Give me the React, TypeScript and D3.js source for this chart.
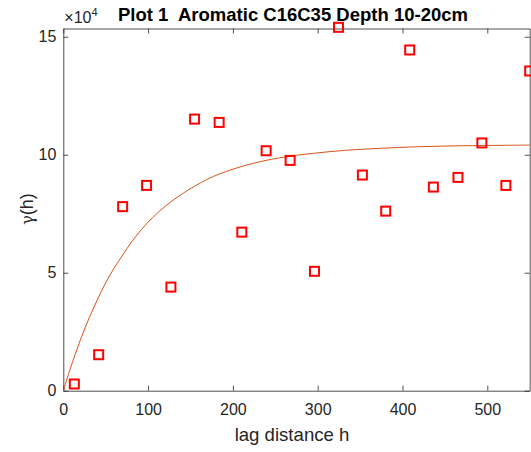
import * as d3 from 'd3'
import { useRef, useEffect } from 'react'

// experimental semivariogram (lag h, gamma in units of 1e4)
const lagH = [13, 41.7, 70, 98.2, 126.9, 154.8, 183.8, 210.5, 239.2, 267.5, 296.2, 324.5, 352.7, 380.2, 408.5, 436.4, 465.4, 493.6, 521.9, 550]
const gammaObs = [0.284, 1.525, 7.8, 8.7, 4.39, 11.51, 11.37, 6.72, 10.17, 9.76, 5.06, 15.4, 9.14, 7.61, 14.44, 8.63, 9.04, 10.5, 8.7, 13.55]

// fitted model curve
const modelH = [0, 4, 8, 14, 20, 27, 35, 45, 55, 65, 75, 86, 98, 112, 126, 148, 177, 216, 255, 295, 334, 373, 420, 470, 520, 550]
const modelGamma = [0, 0.46, 0.91, 1.54, 2.14, 2.78, 3.45, 4.22, 4.9, 5.48, 6.02, 6.56, 7.07, 7.56, 7.98, 8.52, 9.08, 9.56, 9.87, 10.06, 10.19, 10.27, 10.34, 10.38, 10.4, 10.41]

const xTicks = [0, 100, 200, 300, 400, 500]
const yTicks = [0, 5, 10, 15]

const titleText = 'Plot 1  Aromatic C16C35 Depth 10-20cm'
const xLabel = 'lag distance h'

const App = () => {
  const chart = useRef<SVGSVGElement>(null)

  useEffect(() => {
    drawChart()
  }, [])

  const drawChart = () => {
    const W = 531
    const H = 452
    const margin = { top: 28.5, right: 1.3, bottom: 61.3, left: 63.3 }
    const width = W - margin.left - margin.right
    const height = H - margin.top - margin.bottom
    const font = "'Liberation Sans', Arial, Helvetica, sans-serif"
    const axisColor = '#262626'

    const root = d3.select(chart.current)
    root.selectAll('*').remove()
    root.attr('width', W).attr('height', H)

    const svg = root
      .append('g')
      .attr('transform', 'translate(' + margin.left + ',' + margin.top + ')')

    const x = d3.scaleLinear().domain([0, 550]).range([0, width])
    const y = d3.scaleLinear().domain([0, 15.35]).range([height, 0])

    // axes box with inward ticks on all sides
    const tick = 5
    svg.append('g')
      .attr('transform', 'translate(0,' + height + ')')
      .call(d3.axisBottom(x).tickValues(xTicks).tickSize(-tick).tickPadding(tick + 8).tickSizeOuter(0))
    svg.append('g')
      .call(d3.axisTop(x).tickValues(xTicks).tickSize(-tick).tickFormat(() => '').tickSizeOuter(0))
    svg.append('g')
      .call(d3.axisLeft(y).tickValues(yTicks).tickSize(-tick).tickPadding(tick + 2).tickSizeOuter(0))
    svg.append('g')
      .attr('transform', 'translate(' + width + ',0)')
      .call(d3.axisRight(y).tickValues(yTicks).tickSize(-tick).tickFormat(() => '').tickSizeOuter(0))

    svg.selectAll('.domain').attr('stroke', axisColor).attr('stroke-opacity', 0.8)
    svg.selectAll('.tick line').attr('stroke', axisColor).attr('stroke-opacity', 0.8)
    svg.selectAll('.tick text')
      .attr('fill', axisColor)
      .attr('font-family', font)
      .attr('font-size', 16)

    // model curve
    const line = d3.line<number>()
      .x((d, i) => x(modelH[i]))
      .y(d => y(d))
      .curve(d3.curveCatmullRom)
    svg.append('path')
      .datum(modelGamma)
      .attr('d', line)
      .attr('fill', 'none')
      .attr('stroke', '#D95319')
      .attr('stroke-width', 1)

    // observed points as red squares
    const s = 9
    svg.append('g')
      .selectAll('rect')
      .data(gammaObs)
      .enter()
      .append('rect')
      .attr('x', (d, i) => x(lagH[i]) - s / 2)
      .attr('y', d => y(d) - s / 2)
      .attr('width', s)
      .attr('height', s)
      .attr('fill', 'none')
      .attr('stroke', '#FF0000')
      .attr('stroke-width', 2)

    // title
    root.append('text')
      .attr('x', 293)
      .attr('y', 21)
      .attr('text-anchor', 'middle')
      .attr('font-family', font)
      .attr('font-weight', 'bold')
      .attr('font-size', 18.5)
      .attr('fill', '#000')
      .style('white-space', 'pre')
      .text(titleText)

    // exponent label
    const expo = root.append('text')
      .attr('x', margin.left + 1)
      .attr('y', 23)
      .attr('font-family', font)
      .attr('font-size', 16)
      .attr('fill', axisColor)
    expo.append('tspan').text('\u00d710')
    expo.append('tspan').attr('dy', -7).attr('font-size', 11).text('4')

    // axis labels
    root.append('text')
      .attr('x', 292)
      .attr('y', 441)
      .attr('text-anchor', 'middle')
      .attr('font-family', font)
      .attr('font-size', 18.6)
      .attr('fill', axisColor)
      .text(xLabel)

    const yl = root.append('text')
      .attr('transform', 'translate(33,209) rotate(-90)')
      .attr('text-anchor', 'middle')
      .attr('font-family', font)
      .attr('font-size', 18)
      .attr('fill', axisColor)
    yl.append('tspan').attr('font-family', "'DejaVu Serif', serif").attr('font-size', 16).text('\u03b3')
    yl.append('tspan').text('(h)')
  }

  return (
    <div style={{ position: 'absolute', left: 0, top: 0 }}>
      <svg ref={chart}></svg>
    </div>
  )
}

export default App
